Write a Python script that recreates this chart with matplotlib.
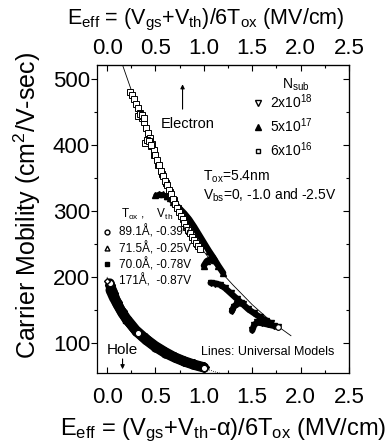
import matplotlib
matplotlib.use("Agg")
import matplotlib.pyplot as plt
from matplotlib.lines import Line2D
from matplotlib.ticker import MultipleLocator, FixedLocator, FuncFormatter

plt.rcParams["font.family"] = ["Liberation Sans", "DejaVu Sans"]
plt.rcParams["mathtext.fontset"] = "custom"
plt.rcParams["mathtext.rm"] = "Liberation Sans"
plt.rcParams["mathtext.it"] = "Liberation Sans:italic"
plt.rcParams["mathtext.default"] = "regular"

# axis ticks
x_ticks = [0.0, 0.5, 1.0, 1.5, 2.0, 2.5]

# Universal model lines
elec_model_E = [0.16, 0.3, 0.5, 0.7, 0.9, 1.1, 1.3, 1.5, 1.7, 1.9]
elec_model_mu = [521, 462, 382, 312, 257, 220, 188, 158, 132, 111]
hole_model_E = [0.0, 0.1, 0.2, 0.3, 0.4, 0.5, 0.6, 0.7, 0.8, 0.9, 1.0, 1.1, 1.17]
hole_model_mu = [200, 163, 136, 117, 104, 93, 84, 77, 71, 66, 62, 57, 54]

# Electron data, Nsub = 6x10^16 (open squares)
sq_E = [0.24, 0.26, 0.28, 0.30, 0.32, 0.34, 0.36, 0.38, 0.40, 0.42, 0.44, 0.46, 0.48,
        0.50, 0.52, 0.54, 0.56, 0.58, 0.60, 0.62, 0.64, 0.66, 0.68, 0.70, 0.72, 0.74,
        0.76, 0.78, 0.80, 0.82, 0.84, 0.86, 0.88, 0.90, 0.92, 0.94, 0.96]
sq_mu = [480, 475, 469, 462, 456, 448, 441, 434, 426, 418, 410, 401, 393,
         385, 377, 369, 361, 353, 346, 339, 332, 325, 318, 311, 305, 299,
         293, 287, 281, 276, 271, 266, 261, 256, 251, 247, 243]
sq_b_E = [0.45, 0.49, 0.53, 0.57, 0.61, 0.65, 0.69, 0.73, 0.77, 0.81, 0.85, 0.89, 0.93]
sq_b_mu = [398, 384, 370, 356, 342, 329, 316, 304, 292, 281, 270, 260, 250]
sq_hook1_E = [0.32, 0.34, 0.36, 0.38]
sq_hook1_mu = [444, 447, 446, 440]
sq_hook2_E = [0.39, 0.41, 0.43, 0.45]
sq_hook2_mu = [403, 407, 406, 400]

# Electron data, Nsub = 5x10^17 (filled triangles)
tri_a_E = [0.50, 0.54, 0.58, 0.62, 0.65, 0.68, 0.72, 0.76, 0.80, 0.85, 0.90, 0.95, 1.00, 1.05, 1.10, 1.15, 1.20]
tri_a_mu = [324, 326, 325, 323, 320, 314, 308, 302, 296, 287, 276, 264, 252, 240, 229, 217, 206]
tri_b_E = [1.00, 1.03, 1.07, 1.11]
tri_b_mu = [217, 224, 227, 226]

# Electron data, Nsub = 2x10^18 (open down triangles)
dtri_a_E = [1.07, 1.12, 1.17, 1.22, 1.28, 1.34, 1.40, 1.46, 1.52, 1.58, 1.64, 1.69]
dtri_a_mu = [191, 190, 188, 183, 175, 167, 159, 151, 145, 139, 134, 130]
dtri_b_E = [1.29, 1.31, 1.34, 1.38]
dtri_b_mu = [148, 155, 159, 160]
dtri_c_E = [1.50, 1.52, 1.55, 1.60, 1.66, 1.72, 1.77]
dtri_c_mu = [119, 127, 131, 130, 128, 126, 124]

# Hole data
hole_E = [0.03, 0.06, 0.1, 0.15, 0.2, 0.3, 0.4, 0.5, 0.6, 0.7, 0.8, 0.9, 1.0]
hole_mu_891 = [191, 178, 163, 148, 136, 117, 104, 93, 84, 77, 71, 66, 62]
hole_mu_715 = [186, 174, 160, 147, 136, 118, 106, 95, 86, 78, 72, 67, 63]
hole_mu_700 = [180, 170, 159, 146, 135, 118, 105, 94, 85, 78, 72, 67, 63]
hole_mu_171 = [188, 176, 162, 149, 138, 120, 107, 96, 87, 79, 73, 68, 64]
hole_open_E = [0.03, 0.32, 1.0]
hole_open_mu = [191, 115, 62]

fig = plt.figure(figsize=(3.89, 4.45), dpi=100)
ax = fig.add_axes([97 / 389, 72 / 445, 252 / 389, 308 / 445])

ax.plot(elec_model_E, elec_model_mu, color="black", lw=0.6)
ax.plot(hole_model_E, hole_model_mu, color="black", lw=0.6, ls=(0, (1, 1.5)))

# electrons
ax.plot(tri_a_E[:4], tri_a_mu[:4], color="black", lw=3, marker="^", ms=4, solid_capstyle="round")
ax.plot(tri_a_E[3:], tri_a_mu[3:], color="black", lw=4.5, marker="^", ms=5, solid_capstyle="round")
ax.plot(tri_b_E, tri_b_mu, color="black", lw=4.5, marker="^", ms=5, solid_capstyle="round")
for E, mu in [(dtri_a_E, dtri_a_mu), (dtri_b_E, dtri_b_mu), (dtri_c_E, dtri_c_mu)]:
    ax.plot(E, mu, color="black", lw=4.5, marker="v", ms=5, solid_capstyle="round")
ax.plot(dtri_c_E[-1:], dtri_c_mu[-1:], ls="none", marker="o", ms=4, mfc="white", mec="black", mew=0.8)
for E, mu in [(sq_b_E, sq_b_mu), (sq_E, sq_mu), (sq_hook1_E, sq_hook1_mu), (sq_hook2_E, sq_hook2_mu)]:
    ax.plot(E, mu, ls="none", marker="s", ms=4.5, mfc="white", mec="black", mew=0.7)

# holes
for mu, m in [(hole_mu_891, "o"), (hole_mu_715, "^"), (hole_mu_700, "s"), (hole_mu_171, "D")]:
    ax.plot(hole_E, mu, color="black", lw=6.5, marker=m, ms=5, solid_capstyle="round")
ax.plot(hole_open_E, hole_open_mu, ls="none", marker="o", ms=4.5, mfc="white", mec="black", mew=0.8)

ax.set_xlim(-0.104, 2.5)
ax.set_ylim(54.5, 521)
fmt = FuncFormatter(lambda v, p: f"{v:.1f}")
ax.xaxis.set_major_locator(FixedLocator(x_ticks))
ax.xaxis.set_minor_locator(MultipleLocator(0.25))
ax.yaxis.set_major_locator(MultipleLocator(100))
ax.yaxis.set_minor_locator(MultipleLocator(50))
ax.xaxis.set_major_formatter(fmt)
ax.tick_params(axis="x", which="both", direction="in", labelsize=16, pad=10)
ax.tick_params(axis="y", which="both", direction="out", labelsize=16, pad=1)
ax.tick_params(which="major", length=4, width=0.8)
ax.tick_params(which="minor", length=2.5, width=0.8)
for s in ax.spines.values():
    s.set_linewidth(0.9)

ay = ax.secondary_yaxis("right")
ay.yaxis.set_major_locator(MultipleLocator(100))
ay.yaxis.set_minor_locator(MultipleLocator(50))
ay.tick_params(which="both", direction="in", labelright=False)
ay.tick_params(which="major", length=4, width=0.8)
ay.tick_params(which="minor", length=2.5, width=0.8)

ax_top = ax.secondary_xaxis("top")
ax_top.xaxis.set_major_locator(FixedLocator(x_ticks))
ax_top.xaxis.set_minor_locator(MultipleLocator(0.25))
ax_top.xaxis.set_major_formatter(fmt)
ax_top.tick_params(which="both", direction="in", labelsize=16, pad=4)
ax_top.tick_params(which="major", length=4, width=0.8)
ax_top.tick_params(which="minor", length=2.5, width=0.8)

ax.set_ylabel("Carrier Mobility (cm$^{2}$/V-sec)", fontsize=18)
ax.yaxis.set_label_coords(-0.215, 0.545)
ax.set_xlabel("E$_{eff}$ = (V$_{gs}$+V$_{th}$-α)/6T$_{ox}$ (MV/cm)", fontsize=17, labelpad=6)
fig.text(0.53, 0.955, "E$_{eff}$ = (V$_{gs}$+V$_{th}$)/6T$_{ox}$ (MV/cm)", fontsize=15.5,
         ha="center", va="center")

# annotations
ax.annotate("", xy=(0.78, 496), xytext=(0.78, 450),
            arrowprops=dict(arrowstyle="-|>", color="black", lw=0.8, mutation_scale=6))
ax.text(0.55, 431, "Electron", fontsize=10.5, va="center")
ax.annotate("", xy=(0.16, 56), xytext=(0.16, 80),
            arrowprops=dict(arrowstyle="-|>", color="black", lw=0.8, mutation_scale=6))
ax.text(0.0, 89, "Hole", fontsize=11, va="center")
ax.text(0.97, 87, "Lines: Universal Models", fontsize=9, va="center")
ax.text(0.99, 351, "T$_{ox}$=5.4nm", fontsize=10, va="center")
ax.text(0.99, 324, "V$_{bs}$=0, -1.0 and -2.5V", fontsize=10, va="center")

ax.text(0.735, 0.935, "N$_{sub}$", fontsize=10, va="center", transform=ax.transAxes)
h1 = [Line2D([], [], ls="none", marker="v", ms=4, mfc="white", mec="black"),
      Line2D([], [], ls="none", marker="^", ms=4, color="black"),
      Line2D([], [], ls="none", marker="s", ms=3.5, mfc="white", mec="black")]
leg1 = ax.legend(h1, ["2x10$^{18}$", "5x10$^{17}$", "6x10$^{16}$"],
                 loc="upper left", bbox_to_anchor=(0.61, 0.91), frameon=False, fontsize=10,
                 handletextpad=0.4, labelspacing=0.38, handlelength=1.0,
                 borderpad=0, borderaxespad=0)
ax.add_artist(leg1)

h2 = [Line2D([], [], ls="none", marker="o", ms=3.5, mfc="white", mec="black"),
      Line2D([], [], ls="none", marker="^", ms=3.5, mfc="white", mec="black"),
      Line2D([], [], ls="none", marker="s", ms=3.5, color="black"),
      Line2D([], [], ls="none", marker="D", ms=3, mfc="white", mec="black")]
ax.legend(h2, ["89.1Å, -0.39V", "71.5Å, -0.25V", "70.0Å, -0.78V", "171Å,  -0.87V"],
          title="T$_{ox}$ ,    V$_{th}$", loc="upper left", bbox_to_anchor=(-0.01, 0.565),
          frameon=False, fontsize=8.5, title_fontsize=8.5, handletextpad=0.6,
          labelspacing=0.25, handlelength=0.8, borderpad=0.2)

fig.savefig("out.png", dpi=100)
